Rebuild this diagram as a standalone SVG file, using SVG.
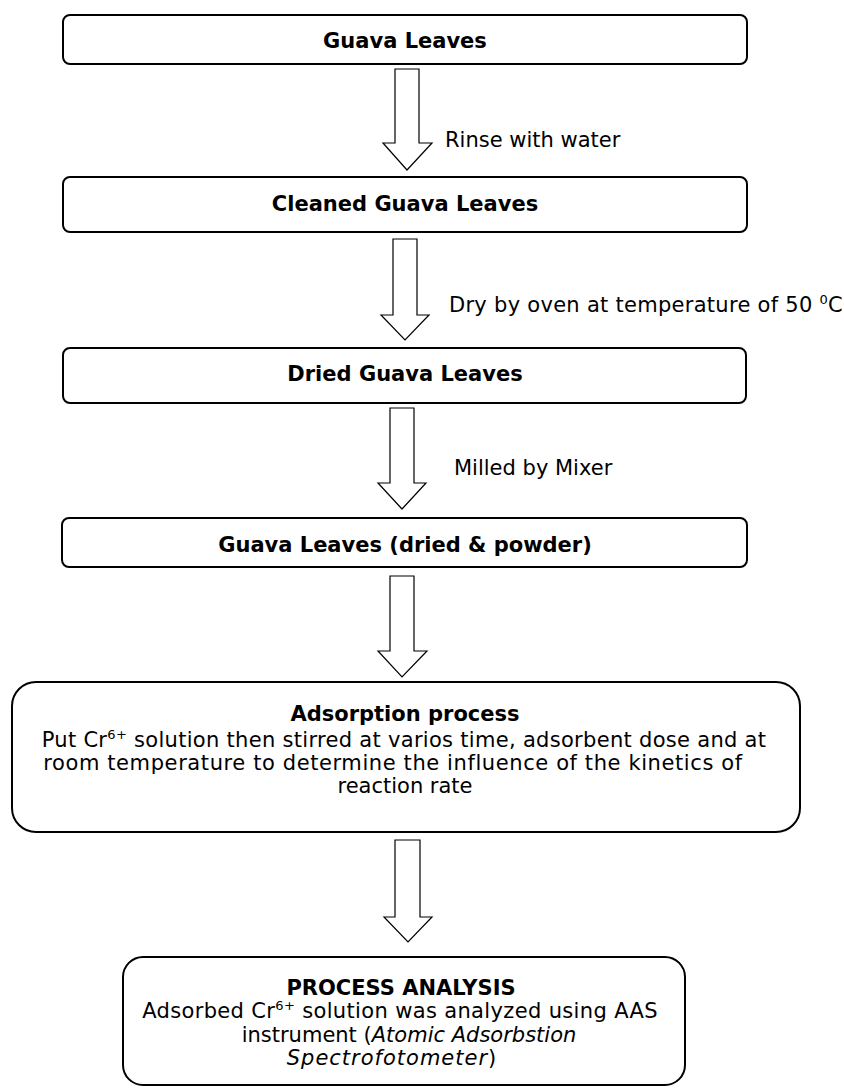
<svg xmlns="http://www.w3.org/2000/svg" width="844" height="1088" viewBox="0 0 844 1088">
<style>
.box{fill:#fff;stroke:#000;stroke-width:2}
.arr{fill:#fff;stroke:#000;stroke-width:1.2;stroke-linejoin:miter}
text{font-family:"DejaVu Sans",Verdana,sans-serif;font-size:21px;fill:#000}
.t{font-weight:bold;text-anchor:middle}
.c{text-anchor:middle}
.sup{font-size:13px}
.it{font-style:italic}
</style>
<rect width="844" height="1088" fill="#fff"/>
<g id="connectors">
<polygon class="arr" points="395,69 419,69 419,143 432,143 407,170 383,143 395,143"/>
<polygon class="arr" points="393,239 417,239 417,315 429,315 405,340 381,315 393,315"/>
<polygon class="arr" points="390,408 414,408 414,483 426,483 402,509 378,483 390,483"/>
<polygon class="arr" points="390,576 414,576 414,651 427,651 402,677 378,651 390,651"/>
<polygon class="arr" points="395,840 420,840 420,917 432,917 408,942 384,917 395,917"/>
<text x="445" y="147">Rinse with water</text>
<text x="449" y="312" letter-spacing="0.28">Dry by oven at temperature of 50 <tspan class="sup" dy="-8">0</tspan><tspan dy="8">C</tspan></text>
<text x="454" y="475">Milled by Mixer</text>
</g>
<g id="n1">
<rect class="box" x="63" y="15" width="684" height="49" rx="7"/>
<text class="t" x="405" y="48">Guava Leaves</text>
</g>
<g id="n2">
<rect class="box" x="63" y="177" width="684" height="55" rx="7"/>
<text class="t" x="405" y="211">Cleaned Guava Leaves</text>
</g>
<g id="n3">
<rect class="box" x="63" y="348" width="683" height="55" rx="7"/>
<text class="t" x="405" y="381">Dried Guava Leaves</text>
</g>
<g id="n4">
<rect class="box" x="62" y="518" width="685" height="49" rx="7"/>
<text class="t" x="405" y="552">Guava Leaves (dried &amp; powder)</text>
</g>
<g id="n5">
<rect class="box" x="12" y="682" width="788" height="150" rx="24"/>
<text class="t" x="405" y="721">Adsorption process</text>
<text class="c" x="404" y="747" letter-spacing="0.3">Put Cr<tspan class="sup" dy="-8">6+</tspan><tspan dy="8"> solution then stirred at varios time, adsorbent dose and at</tspan></text>
<text class="c" x="393" y="770" letter-spacing="0.6">room temperature to determine the influence of the kinetics of</text>
<text class="c" x="405" y="793">reaction rate</text>
</g>
<g id="n6">
<rect class="box" x="123" y="957" width="562" height="128" rx="20"/>
<text class="t" x="401" y="995">PROCESS ANALYSIS</text>
<text class="c" x="400" y="1018" letter-spacing="0.35">Adsorbed Cr<tspan class="sup" dy="-8">6+</tspan><tspan dy="8"> solution was analyzed using AAS</tspan></text>
<text class="c" x="409" y="1042">instrument (<tspan class="it">Atomic Adsorbstion</tspan></text>
<text class="c" x="392" y="1065" letter-spacing="1"><tspan class="it">Spectrofotometer</tspan>)</text>
</g>
</svg>
